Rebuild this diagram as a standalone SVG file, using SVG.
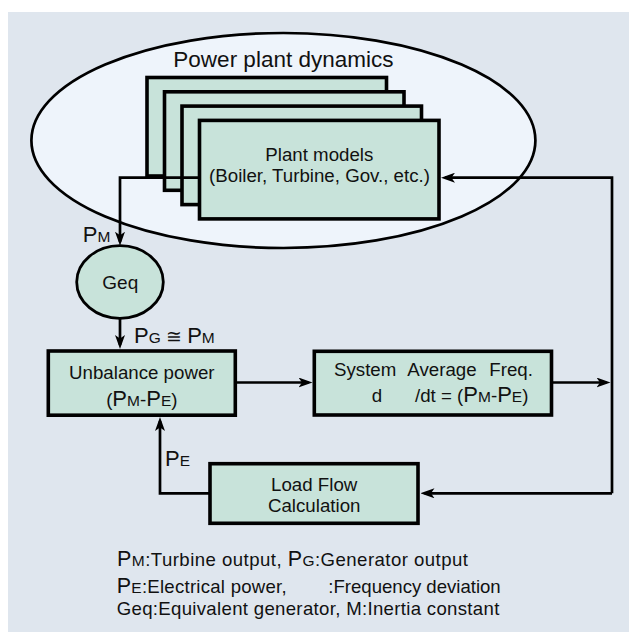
<svg xmlns="http://www.w3.org/2000/svg" width="629" height="632" viewBox="0 0 629 632">
<style>
text{font-family:"Liberation Sans",Arial,sans-serif;fill:#111}
.box{fill:#c8e3da;stroke:#000;stroke-width:3.6}
.ln{fill:none;stroke:#000;stroke-width:2.7}
.t{font-size:18.7px;text-anchor:middle}
.s{font-size:18.7px}
.big{font-size:22px}
.sub{font-size:15.5px}
.lg{font-size:18.6px}
.lbig{font-size:21.5px}
.lsub{font-size:15.5px}
</style>
<defs>
<marker id="arr" viewBox="0 0 14 10" refX="10" refY="5" markerWidth="14" markerHeight="10" orient="auto" markerUnits="userSpaceOnUse"><path d="M0,0 L14,5 L0,10 L3.5,5 z" fill="#000"/></marker>
</defs>
<rect x="8" y="12" width="621" height="620" fill="#dfe6ee"/>

<g id="power-plant-dynamics">
<ellipse cx="283.4" cy="140.5" rx="252" ry="107.5" fill="#eef4fb" stroke="#000" stroke-width="2.7"/>
<text x="283.4" y="66.7" class="t" style="font-size:22.5px">Power plant dynamics</text>
</g>

<g id="plant-models">
<rect class="box" x="147" y="77.5" width="239.5" height="98.5"/>
<rect class="box" x="164.5" y="91.8" width="239.5" height="98.5"/>
<rect class="box" x="182" y="106.1" width="239.5" height="98.5"/>
<rect class="box" x="199.5" y="120.4" width="239.5" height="98.5"/>
<text x="319.3" y="160.7" class="t">Plant models</text>
<text x="319.5" y="181.7" class="t">(Boiler, Turbine, Gov., etc.)</text>
</g>

<g id="geq">
<ellipse cx="120" cy="282" rx="43.3" ry="36.3" fill="#c8e3da" stroke="#000" stroke-width="2.8"/>
<text x="120.3" y="289" class="t" style="font-size:19px">Geq</text>
</g>

<g id="unbalance-power">
<rect class="box" x="48.3" y="351" width="187" height="64.2"/>
<text x="141.8" y="379" class="t">Unbalance power</text>
<text x="141.8" y="405.7" class="t">(<tspan class="big">P</tspan><tspan class="sub">M</tspan>-<tspan class="big">P</tspan><tspan class="sub">E</tspan>)</text>
</g>

<g id="system-average-freq">
<rect class="box" x="314.3" y="351.3" width="237.2" height="63.7"/>
<text y="375.7" class="s"><tspan x="334">System</tspan><tspan x="407.3">Average</tspan><tspan x="489.3">Freq.</tspan></text>
<text y="401.7" class="s"><tspan x="371.7">d</tspan><tspan x="415">/dt = (</tspan><tspan class="big">P</tspan><tspan class="sub">M</tspan>-<tspan class="big">P</tspan><tspan class="sub">E</tspan>)</text>
</g>

<g id="load-flow">
<rect class="box" x="210" y="463.7" width="208" height="59.6"/>
<text x="314.2" y="490.5" class="t">Load Flow</text>
<text x="314.2" y="512.2" class="t">Calculation</text>
</g>

<g id="connectors">
<path class="ln" d="M199.5,177.7 H120 V241.7" marker-end="url(#arr)"/>
<path class="ln" d="M120,318.3 V345" marker-end="url(#arr)"/>
<path class="ln" d="M235.3,382.5 H308.5" marker-end="url(#arr)"/>
<path class="ln" d="M551.5,382.5 H606.5" marker-end="url(#arr)"/>
<path class="ln" d="M612,493.3 V177.7 H445" marker-end="url(#arr)"/>
<path class="ln" d="M612,493.3 H424.5" marker-end="url(#arr)"/>
<path class="ln" d="M210,493.3 H160 V421" marker-end="url(#arr)"/>
</g>

<g id="labels">
<text x="82.7" y="242.3"><tspan class="big">P</tspan><tspan class="sub">M</tspan></text>
<text x="134" y="343.3"><tspan class="big">P</tspan><tspan class="sub">G</tspan><tspan class="s"> ≅ </tspan><tspan class="big">P</tspan><tspan class="sub">M</tspan></text>
<text x="165" y="466"><tspan class="big">P</tspan><tspan class="sub">E</tspan></text>
</g>

<g id="legend">
<text x="117" y="566" class="lg" textLength="351" lengthAdjust="spacing"><tspan class="lbig">P</tspan><tspan class="lsub">M</tspan>:Turbine output, <tspan class="lbig">P</tspan><tspan class="lsub">G</tspan>:Generator output</text>
<text x="116.7" y="593" class="lg" textLength="170" lengthAdjust="spacing"><tspan class="lbig">P</tspan><tspan class="lsub">E</tspan>:Electrical power,</text>
<text x="328.3" y="593" class="lg" textLength="172.4" lengthAdjust="spacing">:Frequency deviation</text>
<text x="116.7" y="614.5" class="lg" textLength="382.6" lengthAdjust="spacing">Geq:Equivalent generator, M:Inertia constant</text>
</g>
</svg>
